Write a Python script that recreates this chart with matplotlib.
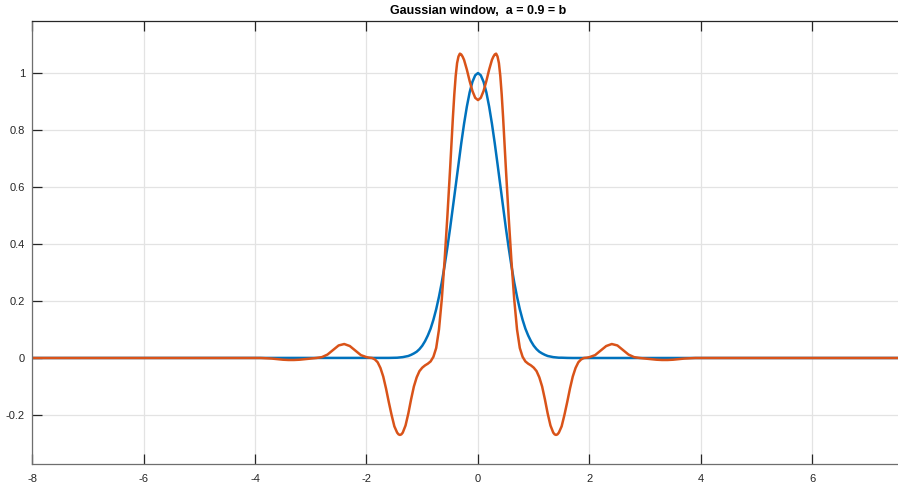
import matplotlib
matplotlib.use("Agg")
import matplotlib.pyplot as plt

# sample positions along the x axis
x = [-8.0, -4.0, -3.9, -3.8, -3.7, -3.6, -3.5, -3.4, -3.3, -3.2, -3.1, -3.0, -2.9, -2.8, -2.7, -2.6, -2.5, -2.4, -2.3, -2.2, -2.1,
     -2.0, -1.95, -1.9, -1.85, -1.8, -1.75, -1.7, -1.65, -1.6, -1.55, -1.5, -1.45, -1.425, -1.4, -1.375, -1.35, -1.3, -1.25, -1.2, -1.15, -1.1, -1.05,
     -1.0, -0.95, -0.9, -0.85, -0.8, -0.75, -0.7, -0.65, -0.6, -0.55, -0.5, -0.45, -0.425, -0.4, -0.375, -0.35, -0.325, -0.3, -0.275, -0.25,
     -0.2, -0.15, -0.1, -0.05,
     0.0, 0.05, 0.1, 0.15, 0.2, 0.25, 0.275, 0.3, 0.325, 0.35, 0.375, 0.4, 0.425, 0.45, 0.5, 0.55, 0.6, 0.65, 0.7, 0.75, 0.8, 0.85, 0.9, 0.95,
     1.0, 1.05, 1.1, 1.15, 1.2, 1.25, 1.3, 1.35, 1.375, 1.4, 1.425, 1.45, 1.5, 1.55, 1.6, 1.65, 1.7, 1.75, 1.8, 1.85, 1.9, 1.95,
     2.0, 2.1, 2.2, 2.3, 2.4, 2.5, 2.6, 2.7, 2.8, 2.9, 3.0, 3.1, 3.2, 3.3, 3.4, 3.5, 3.6, 3.7, 3.8, 3.9, 4.0, 8.0]

# gaussian window (blue)
gauss = [0.0, 0.0, 0.0, 0.0, 0.0, 0.0, 0.0, 0.0, 0.0, 0.0, 0.0, 0.0, 0.0, 0.0, 0.0, 0.0, 0.0, 0.0, 0.0, 0.0, 0.0,
         0.0, 0.0, 0.0, 0.0, 0.0, 0.0, 0.0, 0.0, 0.0003, 0.0005, 0.001, 0.001, 0.0015, 0.002, 0.0025, 0.003, 0.005, 0.007, 0.011, 0.016, 0.022, 0.031,
         0.043, 0.059, 0.079, 0.103, 0.134, 0.171, 0.215, 0.265, 0.323, 0.387, 0.456, 0.529, 0.567, 0.605, 0.643, 0.681, 0.718, 0.754, 0.789, 0.822,
         0.882, 0.932, 0.969, 0.992,
         1.0, 0.992, 0.969, 0.932, 0.882, 0.822, 0.789, 0.754, 0.718, 0.681, 0.643, 0.605, 0.567, 0.529, 0.456, 0.387, 0.323, 0.265, 0.215, 0.171, 0.134, 0.103, 0.079, 0.059,
         0.043, 0.031, 0.022, 0.016, 0.011, 0.007, 0.005, 0.003, 0.0025, 0.002, 0.0015, 0.001, 0.001, 0.0005, 0.0003, 0.0, 0.0, 0.0, 0.0, 0.0, 0.0, 0.0,
         0.0, 0.0, 0.0, 0.0, 0.0, 0.0, 0.0, 0.0, 0.0, 0.0, 0.0, 0.0, 0.0, 0.0, 0.0, 0.0, 0.0, 0.0, 0.0, 0.0, 0.0, 0.0]

# dual window (orange)
dual = [0.0, 0.0, 0.0, -0.001, -0.002, -0.004, -0.006, -0.007, -0.007, -0.006, -0.004, -0.002, 0.0, 0.003, 0.012, 0.028, 0.044, 0.049, 0.042, 0.026, 0.010,
        0.003, 0.001, 0.0, -0.005, -0.015, -0.035, -0.065, -0.107, -0.155, -0.200, -0.240, -0.262, -0.268, -0.270, -0.268, -0.262, -0.237, -0.195, -0.145, -0.100, -0.068, -0.046,
        -0.034, -0.026, -0.020, -0.012, 0.004, 0.035, 0.100, 0.205, 0.340, 0.495, 0.665, 0.845, 0.925, 0.990, 1.035, 1.058, 1.068, 1.065, 1.057, 1.046,
        1.012, 0.972, 0.937, 0.913,
        0.905, 0.913, 0.937, 0.972, 1.012, 1.046, 1.057, 1.065, 1.068, 1.058, 1.035, 0.990, 0.925, 0.845, 0.665, 0.495, 0.340, 0.205, 0.100, 0.035, 0.004, -0.012, -0.020, -0.026,
        -0.034, -0.046, -0.068, -0.100, -0.145, -0.195, -0.237, -0.262, -0.268, -0.270, -0.268, -0.262, -0.240, -0.200, -0.155, -0.107, -0.065, -0.035, -0.015, -0.005, 0.0, 0.001,
        0.003, 0.010, 0.026, 0.042, 0.049, 0.044, 0.028, 0.012, 0.003, 0.0, -0.002, -0.004, -0.006, -0.007, -0.007, -0.006, -0.004, -0.002, -0.001, 0.0, 0.0, 0.0]

xticks = [-8, -6, -4, -2, 0, 2, 4, 6]
yticks = [-0.2, 0, 0.2, 0.4, 0.6, 0.8, 1]
ytick_labels = ['-0.2', '0', '0.2', '0.4', '0.6', '0.8', '1']
title = "Gaussian window,  a = 0.9 = b"

plt.rcParams['font.family'] = ['Liberation Sans', 'DejaVu Sans']
plt.rcParams['axes.unicode_minus'] = False

W, H = 898, 488
fig = plt.figure(figsize=(W / 100, H / 100), dpi=100)
# axes runs past the right edge, like the cropped original
ax = fig.add_axes([32 / W, (H - 464) / H, (924 - 32) / W, (464 - 21) / H])

ax.plot(x, gauss, color='#0072BD', linewidth=1.8)
ax.plot(x, dual, color='#D95319', linewidth=1.8)

ax.set_xlim(-8, 8)
ax.set_ylim(-0.372, 1.1825)
ax.set_xticks(xticks)
ax.set_yticks(yticks)
ax.set_yticklabels(ytick_labels)
ax.grid(True, color='#e3e3e3', linewidth=0.9)
ax.set_axisbelow(True)

for side in ['top', 'bottom', 'left', 'right']:
    ax.spines[side].set_color('#262626')
    ax.spines[side].set_linewidth(0.9)
ax.spines['left'].set_color('#6e6e6e')
ax.spines['bottom'].set_color('#6e6e6e')

ax.tick_params(direction='in', length=7, width=0.9, colors='#262626',
               labelsize=8, top=True, right=False)
ax.tick_params(axis='x', pad=7)
ax.tick_params(axis='y', pad=5)

ax.set_title(title, fontsize=9, fontweight='bold', color='black', pad=5)

fig.savefig('out.png', dpi=100)
